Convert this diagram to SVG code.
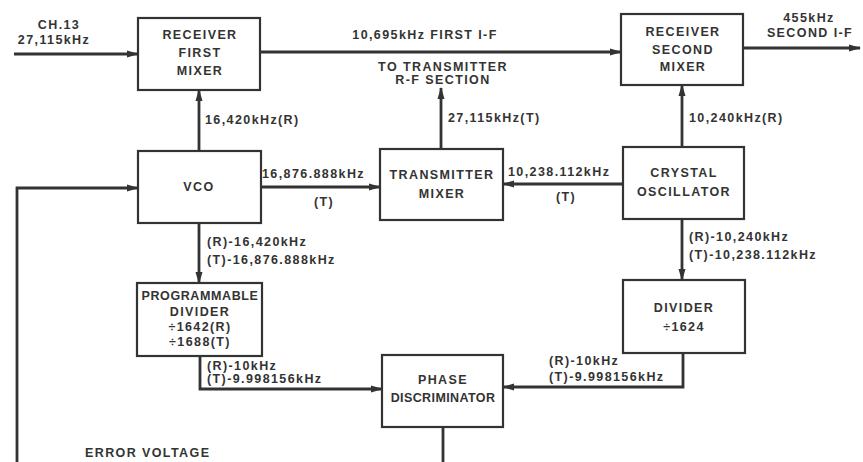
<svg xmlns="http://www.w3.org/2000/svg" width="863" height="462" viewBox="0 0 863 462">
<defs>
<marker id="ah" markerUnits="userSpaceOnUse" markerWidth="12" markerHeight="8" refX="11" refY="4" orient="auto">
<path d="M0,0.5 L12,4 L0,7.5 z" fill="#333"/>
</marker>
<style>
.box{fill:none;stroke:#333;stroke-width:2.2}
.ln{fill:none;stroke:#333;stroke-width:2.8}
text{font-family:"Liberation Sans",Arial,sans-serif;font-weight:bold;fill:#333;font-size:12.5px;letter-spacing:1.4px}
.c{text-anchor:middle}
</style>
</defs>
<rect width="863" height="462" fill="#fff"/>
<g id="connectors">
<path class="ln" d="M14,54 H138" marker-end="url(#ah)"/>
<path class="ln" d="M260,52 H621" marker-end="url(#ah)"/>
<path class="ln" d="M743,48 H860" marker-end="url(#ah)"/>
<path class="ln" d="M199,151 V90" marker-end="url(#ah)"/>
<path class="ln" d="M441,149 V88" marker-end="url(#ah)"/>
<path class="ln" d="M682,147 V85" marker-end="url(#ah)"/>
<path class="ln" d="M261,187 H380" marker-end="url(#ah)"/>
<path class="ln" d="M623,184 H503" marker-end="url(#ah)"/>
<path class="ln" d="M199,223 V283" marker-end="url(#ah)"/>
<path class="ln" d="M682,219 V280" marker-end="url(#ah)"/>
<path class="ln" d="M200,356 V389 H382" marker-end="url(#ah)"/>
<path class="ln" d="M683,353 V387 H503" marker-end="url(#ah)"/>
<path class="ln" d="M443,427 V462"/>
<path class="ln" d="M17,462 V188 H138" marker-end="url(#ah)"/>
</g>
<g id="labels">
<text class="c" x="59" y="29">CH.13</text>
<text class="c" x="54" y="44">27,115kHz</text>
<text class="c" x="425" y="39">10,695kHz FIRST I-F</text>
<text class="c" x="809" y="22">455kHz</text>
<text class="c" x="810" y="37">SECOND I-F</text>
<text class="c" x="443" y="71">TO TRANSMITTER</text>
<text class="c" x="443" y="84">R-F SECTION</text>
<text x="205" y="124">16,420kHz(R)</text>
<text x="448" y="122">27,115kHz(T)</text>
<text x="689" y="122">10,240kHz(R)</text>
<text x="262" y="178">16,876.888kHz</text>
<text class="c" x="324" y="206">(T)</text>
<text x="508" y="176">10,238.112kHz</text>
<text class="c" x="566" y="201">(T)</text>
<text x="207" y="246">(R)-16,420kHz</text>
<text x="207" y="264">(T)-16,876.888kHz</text>
<text x="689" y="241">(R)-10,240kHz</text>
<text x="689" y="259">(T)-10,238.112kHz</text>
<text x="207" y="370">(R)-10kHz</text>
<text x="207" y="383">(T)-9.998156kHz</text>
<text x="549" y="365">(R)-10kHz</text>
<text x="549" y="381">(T)-9.998156kHz</text>
<text x="85" y="457">ERROR VOLTAGE</text>
</g>
<g id="rx1">
<rect class="box" x="138" y="18" width="122" height="72"/>
<text class="c" x="200" y="39">RECEIVER</text>
<text class="c" x="200" y="57">FIRST</text>
<text class="c" x="200" y="75">MIXER</text>
</g>
<g id="rx2">
<rect class="box" x="621" y="14" width="122" height="71"/>
<text class="c" x="683" y="36">RECEIVER</text>
<text class="c" x="683" y="54">SECOND</text>
<text class="c" x="683" y="71">MIXER</text>
</g>
<g id="vco">
<rect class="box" x="138" y="151" width="123" height="72"/>
<text class="c" x="199" y="191">VCO</text>
</g>
<g id="txmixer">
<rect class="box" x="380" y="149" width="123" height="71"/>
<text class="c" x="442" y="179">TRANSMITTER</text>
<text class="c" x="442" y="198">MIXER</text>
</g>
<g id="xtal">
<rect class="box" x="623" y="147" width="121" height="72"/>
<text class="c" x="684" y="177">CRYSTAL</text>
<text class="c" x="684" y="196">OSCILLATOR</text>
</g>
<g id="progdiv">
<rect class="box" x="137" y="283" width="125" height="73"/>
<text class="c" x="200" y="300" style="letter-spacing:0.6px">PROGRAMMABLE</text>
<text class="c" x="200" y="316">DIVIDER</text>
<text class="c" x="200" y="331">÷1642(R)</text>
<text class="c" x="200" y="346">÷1688(T)</text>
</g>
<g id="divider">
<rect class="box" x="623" y="280" width="122" height="73"/>
<text class="c" x="684" y="312">DIVIDER</text>
<text class="c" x="684" y="331">÷1624</text>
</g>
<g id="phase">
<rect class="box" x="382" y="355" width="121" height="72"/>
<text class="c" x="443" y="384">PHASE</text>
<text class="c" x="443" y="402" style="letter-spacing:0.4px">DISCRIMINATOR</text>
</g>
</svg>
